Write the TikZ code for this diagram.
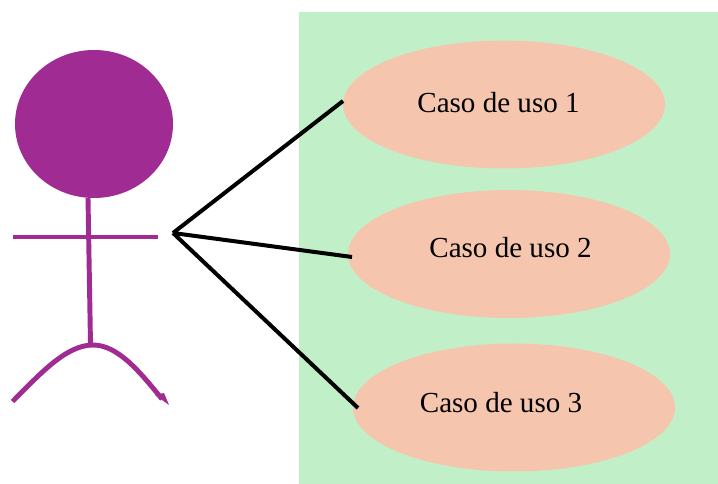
\documentclass[tikz,border=0pt]{standalone}
\usepackage{fontspec}
\setmainfont{Liberation Serif}
\usetikzlibrary{shapes.geometric}
\definecolor{panelgreen}{HTML}{C1F0C8}
\definecolor{ovalpeach}{HTML}{F5C6AD}
\definecolor{actorpurple}{HTML}{A02B93}
\tikzset{
  px/.style={x=0.75pt,y=-0.75pt},
  usecase/.style={ellipse,fill=ovalpeach,minimum width=241.5pt,minimum height=96pt,inner sep=0pt},
  label/.style={font=\fontsize{21.8}{26}\selectfont,inner sep=0pt,anchor=center},
  actor/.style={draw=actorpurple,line width=3.7pt},
  link/.style={draw=black,line width=3pt}
}
\begin{document}
\begin{tikzpicture}[px]
\useasboundingbox (0,0) rectangle (718,484);
\fill[panelgreen] (299,12) rectangle (718,484);
\node[usecase] (u1) at (504,104.5) {};
\node[usecase] (u2) at (509,254) {};
\node[usecase] (u3) at (514,407.5) {};
\node[label] at (498.5,103) {Caso de uso 1};
\node[label] at (510.5,248) {Caso de uso 2};
\node[label] at (501,403) {Caso de uso 3};
\node[ellipse,fill=actorpurple,minimum width=118.5pt,minimum height=111pt,inner sep=0pt] (head) at (94,124) {};
\coordinate (neck) at (88,198);
\coordinate (hip) at (90.5,344);
\coordinate (top) at (93,345);
\coordinate (armL) at (13,237);
\coordinate (armR) at (158,237);
\coordinate (hub) at (173,233);
\coordinate (c1) at (343,101);
\coordinate (c2) at (352,257);
\coordinate (c3) at (358,408);
\draw[actor] (neck) -- (hip);
\draw[actor] (armL) -- (armR);
\draw[actor] (12.5,401.5) .. controls (40,374) and (66,345) .. (top) .. controls (118,345) and (140,372) .. (162,399);
\fill[actorpurple] (155,395) -- (169,405) -- (164,393) -- cycle;
\draw[link] (hub) -- (c1);
\draw[link] (hub) -- (c2);
\draw[link] (hub) -- (c3);
\end{tikzpicture}
\end{document}
